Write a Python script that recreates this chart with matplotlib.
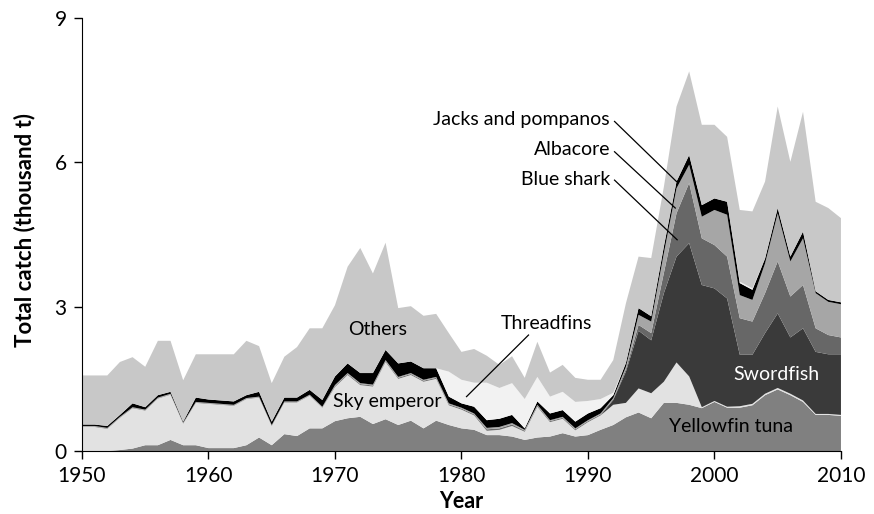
import matplotlib
matplotlib.use('Agg')
import matplotlib.pyplot as plt

plt.rcParams['font.family'] = ['Lato', 'DejaVu Sans']

years = list(range(1950, 2011))

# catches by taxon (thousand t), bottom layer first
yellowfin_tuna = [0, 0, 0, 0.02, 0.05, 0.12, 0.12, 0.23, 0.12, 0.12,
                  0.06, 0.06, 0.06, 0.12, 0.28, 0.12, 0.35, 0.31, 0.47, 0.47,
                  0.62, 0.68, 0.71, 0.56, 0.66, 0.54, 0.63, 0.47, 0.63, 0.54,
                  0.47, 0.44, 0.33, 0.33, 0.30, 0.23, 0.28, 0.30, 0.37, 0.30,
                  0.33, 0.44, 0.54, 0.70, 0.80, 0.68, 1.00, 1.00, 0.96, 0.89,
                  1.02, 0.90, 0.90, 0.95, 1.16, 1.28, 1.16, 1.02, 0.75, 0.75,
                  0.73]
sky_emperor = [0.50, 0.50, 0.46, 0.67, 0.84, 0.72, 0.97, 0.94, 0.45, 0.88,
               0.92, 0.90, 0.88, 0.96, 0.83, 0.40, 0.66, 0.70, 0.68, 0.43,
               0.71, 0.90, 0.66, 0.78, 1.19, 0.96, 0.95, 0.97, 0.87, 0.41,
               0.39, 0.30, 0.09, 0.11, 0.22, 0.17, 0.64, 0.30, 0.30, 0.13,
               0.27, 0.30, 0.42, 0.30, 0.50, 0.52, 0.44, 0.84, 0.59, 0.02,
               0.02, 0.02, 0.03, 0.03, 0.03, 0.03, 0.03, 0.03, 0.02, 0.02,
               0.02]
swordfish = [0]*42 + [0.10, 0.65, 1.20, 1.10, 1.84, 2.20, 2.77, 2.54,
                      2.34, 2.25, 1.07, 1.02, 1.26, 1.55, 1.17, 1.50, 1.29, 1.24,
                      1.26]
blue_shark = [0.01]*20 + [0.02]*12 + [0.03, 0.03, 0.03] + [0.02]*7 + \
             [0.02, 0.05, 0.12, 0.15, 0.42, 0.90, 1.25, 0.97,
              0.90, 0.87, 0.76, 0.69, 0.83, 1.08, 0.85, 0.90, 0.49, 0.40,
              0.35]
albacore = [0.01]*20 + [0.02]*12 + [0.03, 0.03, 0.03] + [0.02]*7 + \
           [0.02, 0.05, 0.21, 0.24, 0.41, 0.52, 0.38, 0.45,
            0.73, 0.87, 0.48, 0.45, 0.62, 1.00, 0.73, 0.97, 0.73, 0.69,
            0.69]
jacks_pompanos = [0.03, 0.03, 0.04, 0.04, 0.08, 0.05, 0.05, 0.04, 0.02, 0.09,
                  0.07, 0.07, 0.07, 0.06, 0.10, 0.07, 0.08, 0.08, 0.10, 0.14,
                  0.18, 0.20, 0.21, 0.24, 0.21, 0.28, 0.24, 0.24, 0.18, 0.14,
                  0.09, 0.14, 0.16, 0.17, 0.17, 0.03, 0.07, 0.14, 0.14, 0.14,
                  0.14, 0.11, 0.06, 0.08, 0.14, 0.11, 0.14, 0.14, 0.20, 0.24,
                  0.24, 0.27, 0.25, 0.21, 0.10, 0.11, 0.10, 0.14, 0.04, 0.04,
                  0.04]
threadfins = [0]*29 + [0.52, 0.49, 0.50, 0.78, 0.64, 0.66, 0.61, 0.51, 0.35,
                       0.38, 0.41, 0.26, 0.19, 0.05, 0, 0, 0, 0, 0, 0, 0,
                       0, 0, 0.03, 0.03, 0, 0, 0, 0, 0, 0, 0]
others = [1.02, 1.02, 1.05, 1.10, 0.96, 0.84, 1.13, 1.06, 0.86, 0.90,
          0.94, 0.96, 0.98, 1.13, 0.95, 0.80, 0.85, 1.05, 1.28, 1.49,
          1.48, 2.01, 2.60, 2.07, 2.23, 1.15, 1.15, 1.09, 1.13, 0.80,
          0.58, 0.70, 0.56, 0.48, 0.56, 0.44, 0.73, 0.50, 0.56, 0.50,
          0.44, 0.40, 0.68, 1.24, 1.07, 1.21, 1.24, 1.56, 1.74, 1.67,
          1.53, 1.35, 1.49, 1.60, 1.60, 2.11, 1.97, 2.49, 1.86, 1.91,
          1.75]

layers = [yellowfin_tuna, sky_emperor, swordfish, blue_shark, albacore,
          jacks_pompanos, threadfins, others]
colors = ['#808080', '#e2e2e2', '#3a3a3a', '#676767', '#a6a6a6',
          '#000000', '#f2f2f2', '#c8c8c8']

fig = plt.figure(figsize=(8.74, 5.14), dpi=100)
ax = fig.add_axes([0.0938, 0.1226, 0.8684, 0.8424])

ax.stackplot(years, *layers, colors=colors, linewidth=0)

ax.set_xlim(1950, 2010)
ax.set_ylim(0, 9)
ax.set_xticks(range(1950, 2011, 10))
ax.set_yticks([0, 3, 6, 9])
ax.tick_params(labelsize=15, length=6, width=1, pad=5)
for s in ['top', 'right']:
  ax.spines[s].set_visible(False)

ax.set_xlabel('Year', fontsize=15.5, fontweight='bold')
ax.set_ylabel('Total catch (thousand t)', fontsize=16, fontweight='bold')
ax.xaxis.set_label_coords(0.5, -0.093)
ax.yaxis.set_label_coords(-0.061, 0.51)

fs = 14
ax.text(1973.4, 2.52, 'Others', fontsize=fs, ha='center', va='center')
ax.text(1974.15, 1.03, 'Sky emperor', fontsize=fs, ha='center', va='center')
ax.text(2004.9, 1.58, 'Swordfish', fontsize=fs, ha='center', va='center', color='white')
ax.text(2001.3, 0.50, 'Yellowfin tuna', fontsize=fs, ha='center', va='center')
ax.text(1986.7, 2.65, 'Threadfins', fontsize=fs, ha='center', va='center')

# leader lines
ax.plot([1985.3, 1980.4], [2.41, 1.13], color='black', lw=0.9)
for name, ytxt, xs, ys in [('Jacks and pompanos', 6.88, [1992.1, 1997.0], [6.85, 5.60]),
                           ('Albacore', 6.26, [1992.1, 1996.9], [6.22, 5.05]),
                           ('Blue shark', 5.65, [1992.1, 1997.05], [5.63, 4.39])]:
  ax.text(1991.75, ytxt, name, fontsize=fs, ha='right', va='center')
  ax.plot(xs, ys, color='black', lw=0.9)

fig.savefig('out.png', dpi=100)
